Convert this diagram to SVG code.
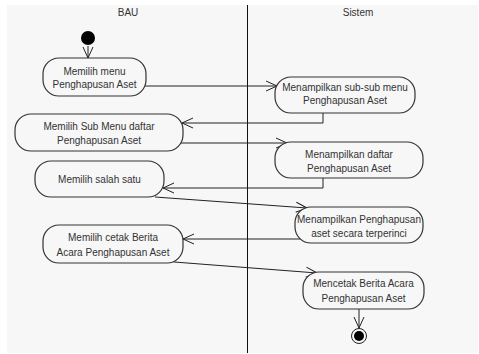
<svg xmlns="http://www.w3.org/2000/svg" width="479" height="354" viewBox="0 0 479 354">
  <style>
    .lane { fill: #f7f7f7; }
    .divider { stroke: #111; stroke-width: 1; }
    .act { fill: #f7f7f7; stroke: #333; stroke-width: 1.2; }
    .lbl { font-family: "Liberation Sans", Arial, sans-serif; font-size: 10px; fill: #333; text-anchor: middle; }
    .flow { fill: none; stroke: #222; stroke-width: 1; marker-end: url(#open); }
  </style>
  <defs>
    <marker id="open" viewBox="0 0 12 10" refX="11" refY="5" markerWidth="12" markerHeight="10" markerUnits="userSpaceOnUse" orient="auto" overflow="visible">
      <path d="M0,0 L11,5 L0,10" fill="none" stroke="#222" stroke-width="1"/>
    </marker>
  </defs>

  <rect width="479" height="354" fill="#ffffff"/>
  <rect class="lane" x="7" y="5" width="471" height="348"/>
  <line class="divider" x1="247.5" y1="5" x2="247.5" y2="353"/>
  <text class="lbl" x="128" y="16">BAU</text>
  <text class="lbl" x="358" y="16">Sistem</text>

  <g id="connectors">
    <path class="flow" d="M88,46 L88,58"/>
    <path class="flow" d="M145,86 L277,86"/>
    <path class="flow" d="M323,113 L323,123 L182,123"/>
    <path class="flow" d="M181,143 L287,143"/>
    <path class="flow" d="M323,178 L323,188 L163,188"/>
    <path class="flow" d="M155,197 L307,208"/>
    <path class="flow" d="M300,239 L183,239"/>
    <path class="flow" d="M174,262 L317,273"/>
    <path class="flow" d="M359,309 L359,328"/>
  </g>

  <g id="start">
    <circle cx="88" cy="38" r="7" fill="#000"/>
  </g>

  <g id="memilih-menu">
    <rect class="act" x="43" y="58" width="103" height="38" rx="16"/>
    <text class="lbl" x="94.5" y="75">Memilih menu</text>
    <text class="lbl" x="94.5" y="88">Penghapusan Aset</text>
  </g>

  <g id="menampilkan-sub">
    <rect class="act" x="275" y="77" width="140" height="36" rx="16"/>
    <text class="lbl" x="345" y="91">Menampilkan sub-sub menu</text>
    <text class="lbl" x="345" y="104">Penghapusan Aset</text>
  </g>

  <g id="memilih-sub-menu">
    <rect class="act" x="15" y="114" width="168" height="37" rx="16"/>
    <text class="lbl" x="99" y="129.5">Memilih Sub Menu daftar</text>
    <text class="lbl" x="99" y="143.5">Penghapusan Aset</text>
  </g>

  <g id="menampilkan-daftar">
    <rect class="act" x="275" y="142" width="148" height="36" rx="16"/>
    <text class="lbl" x="349" y="157.5">Menampilkan daftar</text>
    <text class="lbl" x="349" y="171.5">Penghapusan Aset</text>
  </g>

  <g id="memilih-salah-satu">
    <rect class="act" x="35" y="161" width="129" height="36" rx="16"/>
    <text class="lbl" x="99.5" y="182.5">Memilih salah satu</text>
  </g>

  <g id="menampilkan-terperinci">
    <rect class="act" x="295" y="207" width="128" height="36" rx="16"/>
    <text class="lbl" x="359" y="222.5">Menampilkan Penghapusan</text>
    <text class="lbl" x="359" y="236.5">aset secara terperinci</text>
  </g>

  <g id="memilih-cetak">
    <rect class="act" x="43" y="225" width="140" height="38" rx="16"/>
    <text class="lbl" x="113" y="240.5">Memilih cetak Berita</text>
    <text class="lbl" x="113" y="255.5">Acara Penghapusan Aset</text>
  </g>

  <g id="mencetak">
    <rect class="act" x="303" y="272" width="121" height="37" rx="16"/>
    <text class="lbl" x="363.5" y="287">Mencetak Berita Acara</text>
    <text class="lbl" x="363.5" y="302">Penghapusan Aset</text>
  </g>

  <g id="end">
    <circle cx="359" cy="336" r="7.5" fill="#f7f7f7" stroke="#222" stroke-width="1"/>
    <circle cx="359" cy="336" r="5" fill="#000"/>
  </g>
</svg>
